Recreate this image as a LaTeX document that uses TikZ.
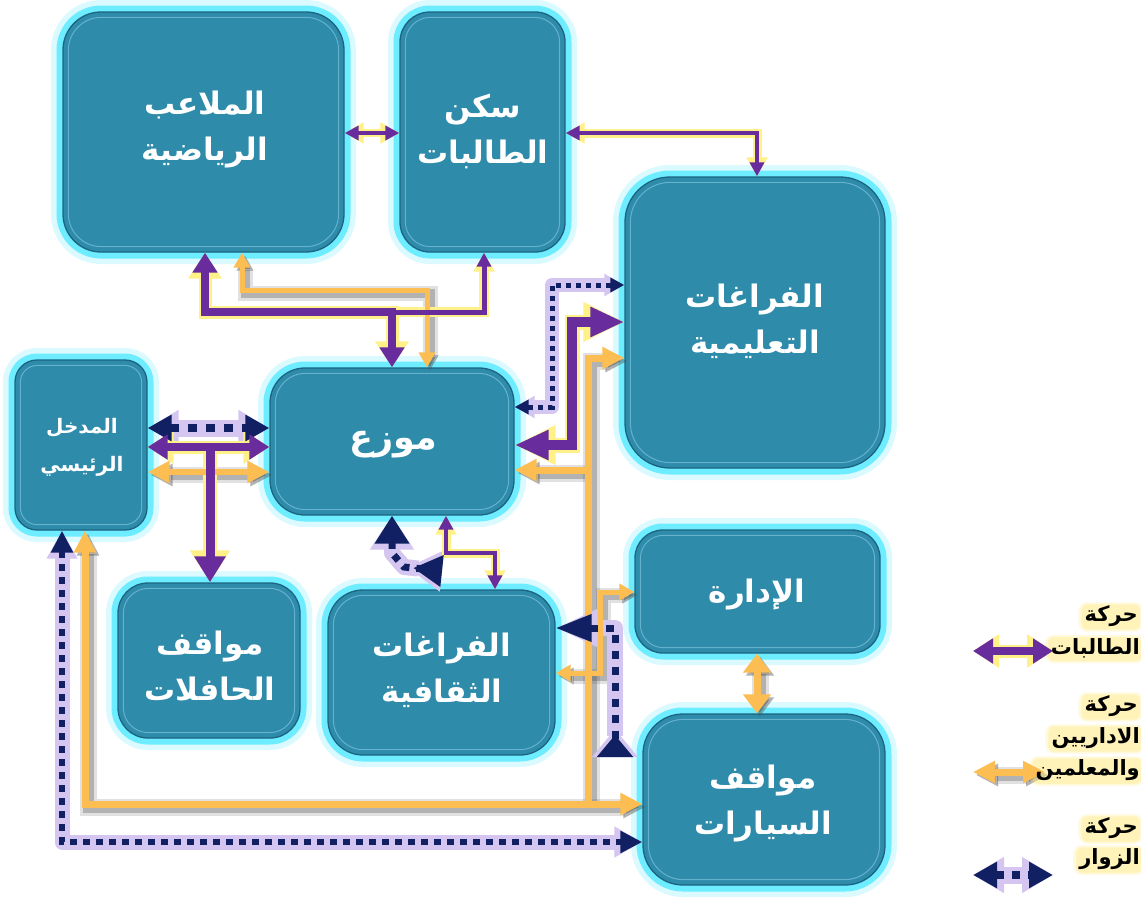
\documentclass[tikz,border=0pt]{standalone}
\usepackage{fontspec}
\usetikzlibrary{arrows.meta,calc}
\TeXXeTstate=1
\newfontfamily\arabicfont[Script=Arabic]{DejaVu Sans}
\newcommand\artx[1]{\beginR#1\endR}
\definecolor{boxc}{RGB}{46,139,170}
\definecolor{boxedge}{RGB}{28,100,130}
\definecolor{boxin}{RGB}{100,178,206}
\definecolor{glowc}{RGB}{90,235,255}
\definecolor{purp}{RGB}{104,44,156}
\definecolor{pglowc}{RGB}{255,240,135}
\definecolor{yell}{RGB}{252,190,82}
\definecolor{yshadow}{RGB}{80,80,80}
\definecolor{navy}{RGB}{16,32,98}
\definecolor{nglowc}{RGB}{212,198,240}
\definecolor{halo}{RGB}{255,232,120}
\pgfdeclarelayer{boxl}
\pgfdeclarelayer{glowl}
\pgfsetlayers{boxl,glowl,main}
\tikzset{
 PB/.tip={Triangle[width=28pt,length=34pt]},
 PBg/.tip={Triangle[width=37pt,length=41pt]},
 PM/.tip={Triangle[width=24pt,length=20pt]},
 PMg/.tip={Triangle[width=32pt,length=26pt]},
 PL/.tip={Triangle[width=30pt,length=26pt]},
 PLg/.tip={Triangle[width=38pt,length=32pt]},
 PS/.tip={Triangle[width=14pt,length=14pt]},
 PSg/.tip={Triangle[width=20pt,length=19pt]},
 YS/.tip={Triangle[width=16pt,length=15pt]},
 YM/.tip={Triangle[width=21pt,length=22pt]},
 YL/.tip={Triangle[width=27pt,length=19pt]},
 NB/.tip={Triangle[width=25pt,length=24pt]},
 NBg/.tip={Triangle[width=34pt,length=31pt]},
 NS/.tip={Triangle[width=14pt,length=14pt]},
 NSg/.tip={Triangle[width=21pt,length=20pt]},
 NM/.tip={Triangle[width=21pt,length=22pt]},
 NMg/.tip={Triangle[width=29pt,length=28pt]},
 NU/.tip={Triangle[width=33pt,length=28pt]},
 NUg/.tip={Triangle[width=42pt,length=34pt]},
 NR/.tip={Triangle[reversed,width=30pt,length=29pt]},
 NRg/.tip={Triangle[reversed,width=39pt,length=35pt]},
 NL/.tip={Triangle[width=26pt,length=36pt]},
 NLg/.tip={Triangle[width=35pt,length=42pt]},
 NT/.tip={Triangle[reversed,width=35pt,length=22pt]},
 NTg/.tip={Triangle[reversed,width=44pt,length=28pt]},
 boxs/.style={rectangle, draw=boxedge, line width=1.3pt, fill=boxc,
   preaction={draw=glowc, line width=24pt, draw opacity=0.22},
   preaction={draw=glowc, line width=13pt, draw opacity=0.85}},
 boxinner/.style={draw=boxin, line width=1pt},
 blab/.style={text=white, inner sep=0pt, align=center,
   font=\arabicfont\bfseries\fontsize{31pt}{46pt}\selectfont},
 slab/.style={font=\arabicfont\bfseries\fontsize{20pt}{38pt}\selectfont},
 mlab/.style={font=\arabicfont\bfseries\fontsize{35pt}{46pt}\selectfont},
 pglow/.style={draw=pglowc, line join=miter},
 pline/.style={draw=purp, line join=miter},
 nglowst/.style={draw=nglowc, line join=round},
 nline/.style={draw=navy},
 yline/.style={draw=yell, line join=miter},
 yshad/.style={draw=yshadow, transform canvas={shift={(3,3)}}},
 legt/.style={anchor=east, inner sep=0pt, text=black,
   font=\arabicfont\bfseries\fontsize{21pt}{24pt}\selectfont},
 hlt/.style={fill=halo, rounded corners=9pt}
}
\newcommand\pconn[5]{%
 \begin{pgfonlayer}{glowl}\draw[pglow, line width=#2pt, arrows={#4}] #5;\end{pgfonlayer}
 \draw[pline, line width=#1pt, arrows={#3}] #5;}
\newcommand\yconn[3]{%
 \begin{pgfonlayer}{glowl}
  \draw[yshad, line width=#1pt+10pt, opacity=.17, arrows={#2}] #3;
  \draw[yshad, line width=#1pt+4pt, opacity=.32, arrows={#2}] #3;
 \end{pgfonlayer}
 \draw[yline, line width=#1pt, arrows={#2}] #3;}
\newcommand\nconn[6]{%
 \begin{pgfonlayer}{glowl}\draw[nglowst, line width=#2pt, arrows={#5}] #6;\end{pgfonlayer}
 \draw[nline, line width=#1pt, dash pattern=#3, arrows={#4}] #6;}
\newcommand\legtext[3]{%
 \node[legt] (#1) at (#2) {\artx{#3}};
 \begin{pgfonlayer}{glowl}
 \fill[hlt, opacity=.25] ([shift={(-6,-3)}]#1.north west) rectangle ([shift={(5,5)}]#1.south east);
 \fill[hlt, opacity=.35, rounded corners=6pt] ([shift={(-3,-1)}]#1.north west) rectangle ([shift={(2,3)}]#1.south east);
 \end{pgfonlayer}}
\begin{document}
\begin{tikzpicture}[x=1pt,y=-1pt]
\useasboundingbox (0,0) rectangle (1141,897);
\begin{pgfonlayer}{boxl}
\fill[white] (0,0) rectangle (1141,897);
\node[boxs, rounded corners=38pt, minimum width=281pt, minimum height=240pt] (b1) at (203.5,132) {};
\node[boxs, rounded corners=30pt, minimum width=165pt, minimum height=240pt] (b2) at (482.5,132) {};
\node[boxs, rounded corners=45pt, minimum width=260pt, minimum height=291pt] (b3) at (755,322.5) {};
\node[boxs, rounded corners=22pt, minimum width=132pt, minimum height=170pt] (b4) at (81,445) {};
\node[boxs, rounded corners=35pt, minimum width=244pt, minimum height=147pt] (b5) at (392,441.5) {};
\node[boxs, rounded corners=30pt, minimum width=182pt, minimum height=155pt] (b6) at (209,660.5) {};
\node[boxs, rounded corners=35pt, minimum width=227pt, minimum height=165pt] (b7) at (441.5,672.5) {};
\node[boxs, rounded corners=28pt, minimum width=245pt, minimum height=123pt] (b8) at (757.5,591.5) {};
\node[boxs, rounded corners=40pt, minimum width=242pt, minimum height=171pt] (b9) at (764,799.5) {};
\foreach \b/\r in {b1/33,b2/25,b3/40,b4/17,b5/30,b6/25,b7/30,b8/23,b9/35}
 \draw[boxinner, rounded corners=\r pt] ([shift={(6,6)}]\b.north west) rectangle ([shift={(-6,-6)}]\b.south east);
\end{pgfonlayer}

% yellow connectors
\yconn{7}{-YM}{(588,804) -- (588,358) -- (b3.west |- 0,358)}
\yconn{7}{-YM}{(588,470) -- (b5.east |- 0,470)}
\yconn{7}{YM-YM}{(85,0 |- b4.south) -- (85,804) -- (b9.west |- 0,804)}
\yconn{5}{YS-YS}{(242,0 |- b1.south) -- (242,290) -- (427,290) -- (427,0 |- b5.north)}
\yconn{6}{YM-YM}{(b4.east |- 0,472) -- (b5.west |- 0,472)}
\yconn{5}{YS-YS}{(b8.west |- 0,592) -- (600,592) -- (600,673) -- (b7.east |- 0,673)}
\yconn{7}{YL-YL}{(757,0 |- b8.south) -- (757,0 |- b9.north)}

% navy dotted connectors
\nconn{8}{17}{on 9pt off 9pt}{NB-NB}{NBg-NBg}{(b4.east |- 0,428) -- (b5.west |- 0,428)}
\nconn{5}{14}{on 5pt off 5pt}{NS-NS}{NSg-NSg}{(b5.east |- 0,407) -- (552,407) -- (552,285) -- (b3.west |- 0,285)}
\nconn{6}{15}{on 7pt off 6pt}{NM-NM}{NMg-NMg}{(62,0 |- b4.south) -- (62,842) -- (b9.west |- 0,842)}
\nconn{7}{16}{on 7pt off 7pt}{NU-NR}{NUg-NRg}{(392,0 |- b5.south) -- (392,553) -- (404,567) -- (442,571)}
\nconn{7}{16}{on 8pt off 8pt}{NL-NT}{NLg-NTg}{(b7.east |- 0,628) -- (615,628) -- (615,757)}

% purple connectors
\pconn{3.5}{8}{PS-PS}{PSg-PSg}{(b1.east |- 0,133) -- (b2.west |- 0,133)}
\pconn{4}{9}{PS-PS}{PSg-PSg}{(b2.east |- 0,133) -- (757,133) -- (757,0 |- b3.north)}
\pconn{8}{13}{PM-PM}{PMg-PMg}{(205,0 |- b1.south) -- (205,312) -- (392,312) -- (392,0 |- b5.north)}
\pconn{5}{10}{-PS}{-PSg}{(392,312) -- (484,312) -- (484,0 |- b2.south)}
\pconn{10}{15}{PB-PB}{PBg-PBg}{(b5.east |- 0,445) -- (572,445) -- (572,322) -- (b3.west |- 0,322)}
\pconn{8}{13}{PM-PM}{PMg-PMg}{(b4.east |- 0,447) -- (b5.west |- 0,447)}
\pconn{9}{14}{-PL}{-PLg}{(210,447) -- (210,0 |- b6.north)}
\pconn{4}{9}{PS-PS}{PSg-PSg}{(446,0 |- b5.south) -- (446,553) -- (495,553) -- (495,0 |- b7.north)}

% box labels
\node[blab] (t1) at (205,130) {\artx{الملاعب}\\\artx{الرياضية}};
\node[blab] (t2) at (483,131) {\artx{سكن}\\\artx{الطالبات}};
\node[blab] (t3) at (755,321) {\artx{الفراغات}\\\artx{التعليمية}};
\node[blab, slab] (t4) at (82,447) {\artx{المدخل}\\\artx{الرئيسي}};
\node[blab, mlab] (t5) at (393,445) {\artx{موزع}};
\node[blab] (t6) at (210,666) {\artx{مواقف}\\\artx{الحافلات}};
\node[blab] (t7) at (442,670) {\artx{الفراغات}\\\artx{الثقافية}};
\node[blab] (t8) at (757,595) {\artx{الإدارة}};
\node[blab] (t9) at (763,803) {\artx{مواقف}\\\artx{السيارات}};

% legend
\coordinate (lpa) at (973,651);
\coordinate (lpb) at (1053,651);
\coordinate (lya) at (973,772);
\coordinate (lyb) at (1045,772);
\coordinate (lna) at (973,875);
\coordinate (lnb) at (1053,875);
\pconn{8}{13}{PM-PM}{PMg-PMg}{(lpa) -- (lpb)}
\yconn{7}{YM-YM}{(lya) -- (lyb)}
\nconn{8}{17}{on 8pt off 8pt}{NB-NB}{NBg-NBg}{(lna) -- (lnb)}
\legtext{l1}{1138,616}{حركة}
\legtext{l2}{1140,648}{الطالبات}
\legtext{l3}{1138,706}{حركة}
\legtext{l4}{1140,738}{الاداريين}
\legtext{l5}{1140,770}{والمعلمين}
\legtext{l6}{1138,828}{حركة}
\legtext{l7}{1140,859}{الزوار}
\end{tikzpicture}
\end{document}
